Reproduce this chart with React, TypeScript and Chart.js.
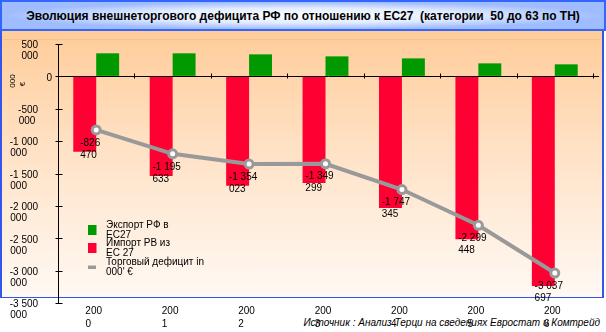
import React, { useEffect, useRef } from 'react';
import { Chart, registerables } from 'chart.js';

Chart.register(...registerables);

// ---------- data ----------
const categories = ['2000', '2001', '2002', '2003', '2004', '2005', '2006'];
const exportValues = [356000, 356000, 340000, 309000, 278000, 201000, 186000];
const importValues = [-1166000, -1537000, -1691000, -1645000, -2032000, -2516000, -3237000];
const deficitValues = [-826470, -1195633, -1354023, -1349299, -1747345, -2299448, -3037697];
const exportName = ['Экспорт РФ в', 'ЕС27'];
const importName = ['Импорт РВ из', 'ЕС 27'];
const deficitName = ['Торговый дефицит in', "000' €"];
const yMin = -3500000;
const yMax = 500000;
const yStep = 500000;
const yTitle = ['000', '€'];
const titleText = 'Эволюция внешнеторгового дефицита РФ по отношению к ЕС27  (категории  50 до 63 по ТН)';
const sourceText = 'Источник : Анализ Терци на сведениях Евростат и Комтрейд';

const FAMILY = 'Arial, "Liberation Sans", sans-serif';

// ---------- helpers ----------
let measureCtx: CanvasRenderingContext2D | null = null;
function measure(text: string): number {
  if (!measureCtx) measureCtx = document.createElement('canvas').getContext('2d');
  measureCtx!.font = `10px ${FAMILY}`;
  return measureCtx!.measureText(text).width;
}
function padEnd(text: string, width: number): string {
  let t = text;
  let guard = 0;
  while (measure(t) < width - 0.8 && guard < 40) {
    t += ' ';
    guard++;
  }
  return t;
}
function groupDigits(n: number): string {
  const s = Math.round(Math.abs(n)).toString();
  const parts: string[] = [];
  for (let i = s.length; i > 0; i -= 3) parts.unshift(s.slice(Math.max(0, i - 3), i));
  return (n < 0 ? '-' : '') + parts.join(' ');
}
function splitNumber(n: number): string[] {
  const str = groupDigits(n);
  const idx = str.lastIndexOf(' ');
  return idx < 0 ? [str] : [str.slice(0, idx), str.slice(idx + 1)];
}

const decorPlugin = {
  id: 'decor',
  afterDraw(chart: any) {
    const { ctx, chartArea, scales } = chart;
    const xs = scales.x;
    const ys = scales.y;
    ctx.save();
    // zero line
    const y0 = Math.round(ys.getPixelForValue(0)) + 0.5;
    ctx.strokeStyle = '#000000';
    ctx.lineWidth = 1;
    ctx.beginPath();
    ctx.moveTo(chartArea.left, y0);
    ctx.lineTo(chartArea.right + 6, y0);
    ctx.stroke();
    // category boundary ticks on zero line
    for (let i = 1; i <= categories.length; i++) {
      const x = Math.round(xs.getPixelForValue(i - 0.5)) + 0.5;
      ctx.beginPath();
      ctx.moveTo(x, y0 - 3);
      ctx.lineTo(x, y0 + 2);
      ctx.stroke();
    }
    // y ticks crossing axis
    const ax = Math.round(chartArea.left) + 0.5;
    ys.ticks.forEach((t: any) => {
      const y = Math.round(ys.getPixelForValue(t.value)) + 0.5;
      ctx.beginPath();
      ctx.moveTo(ax - 3, y);
      ctx.lineTo(ax + 4, y);
      ctx.stroke();
    });

    // data labels of the deficit line
    ctx.fillStyle = '#000000';
    ctx.font = `10px ${FAMILY}`;
    ctx.textBaseline = 'middle';
    ctx.textAlign = 'left';
    const meta = chart.getDatasetMeta(0);
    meta.data.forEach((pt: any, i: number) => {
      const lines = splitNumber(deficitValues[i]);
      const w = Math.max(...lines.map((l) => ctx.measureText(l).width));
      const left = pt.x - 6 - w / 2;
      lines.forEach((l, j) => ctx.fillText(l, left, pt.y + 13 + j * 12));
    });

    // legend
    const ds = chart.data.datasets;
    const items = [
      { color: ds[2].backgroundColor, kind: 'box', lines: exportName, cy: 230 },
      { color: ds[1].backgroundColor, kind: 'box', lines: importName, cy: 248 },
      { color: ds[0].borderColor, kind: 'line', lines: deficitName, cy: 267 },
    ];
    items.forEach((it) => {
      ctx.fillStyle = it.color;
      if (it.kind === 'box') ctx.fillRect(88, it.cy - 5, 8.5, 10);
      else ctx.fillRect(88, it.cy - 1.5, 8, 3.5);
      ctx.fillStyle = '#000000';
      ctx.fillText(it.lines[0], 106, it.cy - 5.2);
      ctx.fillText(it.lines[1], 106, it.cy + 5.4);
    });

    // y axis title (two lines, rotated)
    ctx.font = `8px ${FAMILY}`;
    ctx.textAlign = 'center';
    ctx.save();
    ctx.translate(12.5, 81);
    ctx.rotate(-Math.PI / 2);
    ctx.fillText(yTitle[0], 0, 0);
    ctx.restore();
    ctx.save();
    ctx.translate(23, 84);
    ctx.rotate(-Math.PI / 2);
    ctx.fillText(yTitle[1], 0, 0);
    ctx.restore();
    ctx.restore();
  },
};

export default function App() {
  const canvasRef = useRef<HTMLCanvasElement | null>(null);

  useEffect(() => {
    document.body.style.margin = '0';
    const canvas = canvasRef.current;
    if (!canvas) return;
    const chart = new Chart(canvas, {
      type: 'bar',
      data: {
        labels: categories,
        datasets: [
          {
            type: 'line',
            label: deficitName.join(' '),
            data: deficitValues,
            borderColor: '#999999',
            backgroundColor: '#999999',
            borderWidth: 4,
            pointRadius: 4,
            pointBorderWidth: 3,
            pointBackgroundColor: '#ffffff',
            pointBorderColor: '#999999',
            tension: 0,
            order: 0,
          } as any,
          {
            type: 'bar',
            label: importName.join(' '),
            data: importValues,
            backgroundColor: '#ff0033',
            categoryPercentage: 0.6,
            barPercentage: 1,
            order: 1,
          },
          {
            type: 'bar',
            label: exportName.join(' '),
            data: exportValues,
            backgroundColor: '#009900',
            categoryPercentage: 0.6,
            barPercentage: 1,
            order: 1,
          },
        ],
      },
      options: {
        responsive: false,
        maintainAspectRatio: false,
        animation: false,
        devicePixelRatio: 1,
        layout: { padding: { top: 44, right: 13, bottom: 0, left: 0 } },
        plugins: {
          legend: { display: false },
          title: { display: false },
          tooltip: { enabled: false },
        },
        scales: {
          x: {
            grid: { display: false, drawTicks: false },
            border: { display: false },
            ticks: {
              color: '#000000',
              font: { family: FAMILY, size: 10, lineHeight: 1.27 },
              padding: 2,
              labelOffset: -2.5,
              maxRotation: 0,
              autoSkip: false,
              callback: (_v: any, index: number) => {
                const c = categories[index];
                const first = c.slice(0, 3);
                return [first, padEnd(c.slice(3), measure(first))];
              },
            },
            afterFit: (s: any) => {
              s.height = 29;
            },
          },
          y: {
            min: yMin,
            max: yMax,
            grid: { drawOnChartArea: false, tickLength: 3, tickColor: 'rgba(0,0,0,0)' },
            border: { color: '#000000', width: 1 },
            ticks: {
              stepSize: yStep,
              color: '#000000',
              font: { family: FAMILY, size: 10, lineHeight: 1.1 },
              padding: 3,
              labelOffset: 7,
              callback: (value: any) => {
                const lines = splitNumber(Number(value));
                if (lines.length === 1) return [lines[0], ''];
                const w = measure(lines[0]) + 14;
                return [padEnd(lines[0], w), padEnd(lines[1], w)];
              },
            },
            afterFit: (s: any) => {
              s.width = 58;
            },
          },
        },
      },
      plugins: [decorPlugin],
    });
    return () => chart.destroy();
  }, []);

  return (
    <div
      style={{
        position: 'absolute',
        left: 0,
        top: 0,
        width: 606,
        height: 332,
        background: '#ffffff',
        overflow: 'hidden',
        fontFamily: FAMILY,
      }}
    >
      <div
        style={{
          position: 'absolute',
          left: 0,
          top: 0,
          width: 606,
          height: 31,
          boxSizing: 'border-box',
          border: '2px solid #3366ff',
          background:
            'radial-gradient(ellipse farthest-side at 50% 50%, #ffffff 0%, #e2ecff 55%, #9fbcff 100%)',
          display: 'flex',
          alignItems: 'center',
          justifyContent: 'center',
          fontWeight: 'bold',
          fontSize: 12,
          color: '#000000',
          whiteSpace: 'pre',
        }}
      >
        {titleText}
      </div>
      <div
        style={{
          position: 'absolute',
          left: 0,
          top: 31,
          width: 604,
          height: 267,
          boxSizing: 'border-box',
          borderLeft: '2px solid #3355ee',
          borderRight: '2px solid #3355ee',
          borderBottom: '1px solid #3355ee',
          background: 'linear-gradient(#ffcc99 0%, #ffe2c6 45%, #fff9f4 100%)',
        }}
      />
      <div
        style={{
          position: 'absolute',
          left: 4,
          top: 39,
          width: 596,
          height: 0,
          borderTop: '1px dotted #e9b887',
        }}
      />
      <div
        style={{
          position: 'absolute',
          right: 6,
          top: 317,
          fontSize: 10,
          fontStyle: 'italic',
          color: '#000000',
          whiteSpace: 'nowrap',
          lineHeight: '12px',
        }}
      >
        {sourceText}
      </div>
      <canvas
        ref={canvasRef}
        width={606}
        height={332}
        style={{ position: 'absolute', left: 0, top: 0, width: 606, height: 332 }}
      />
    </div>
  );
}
